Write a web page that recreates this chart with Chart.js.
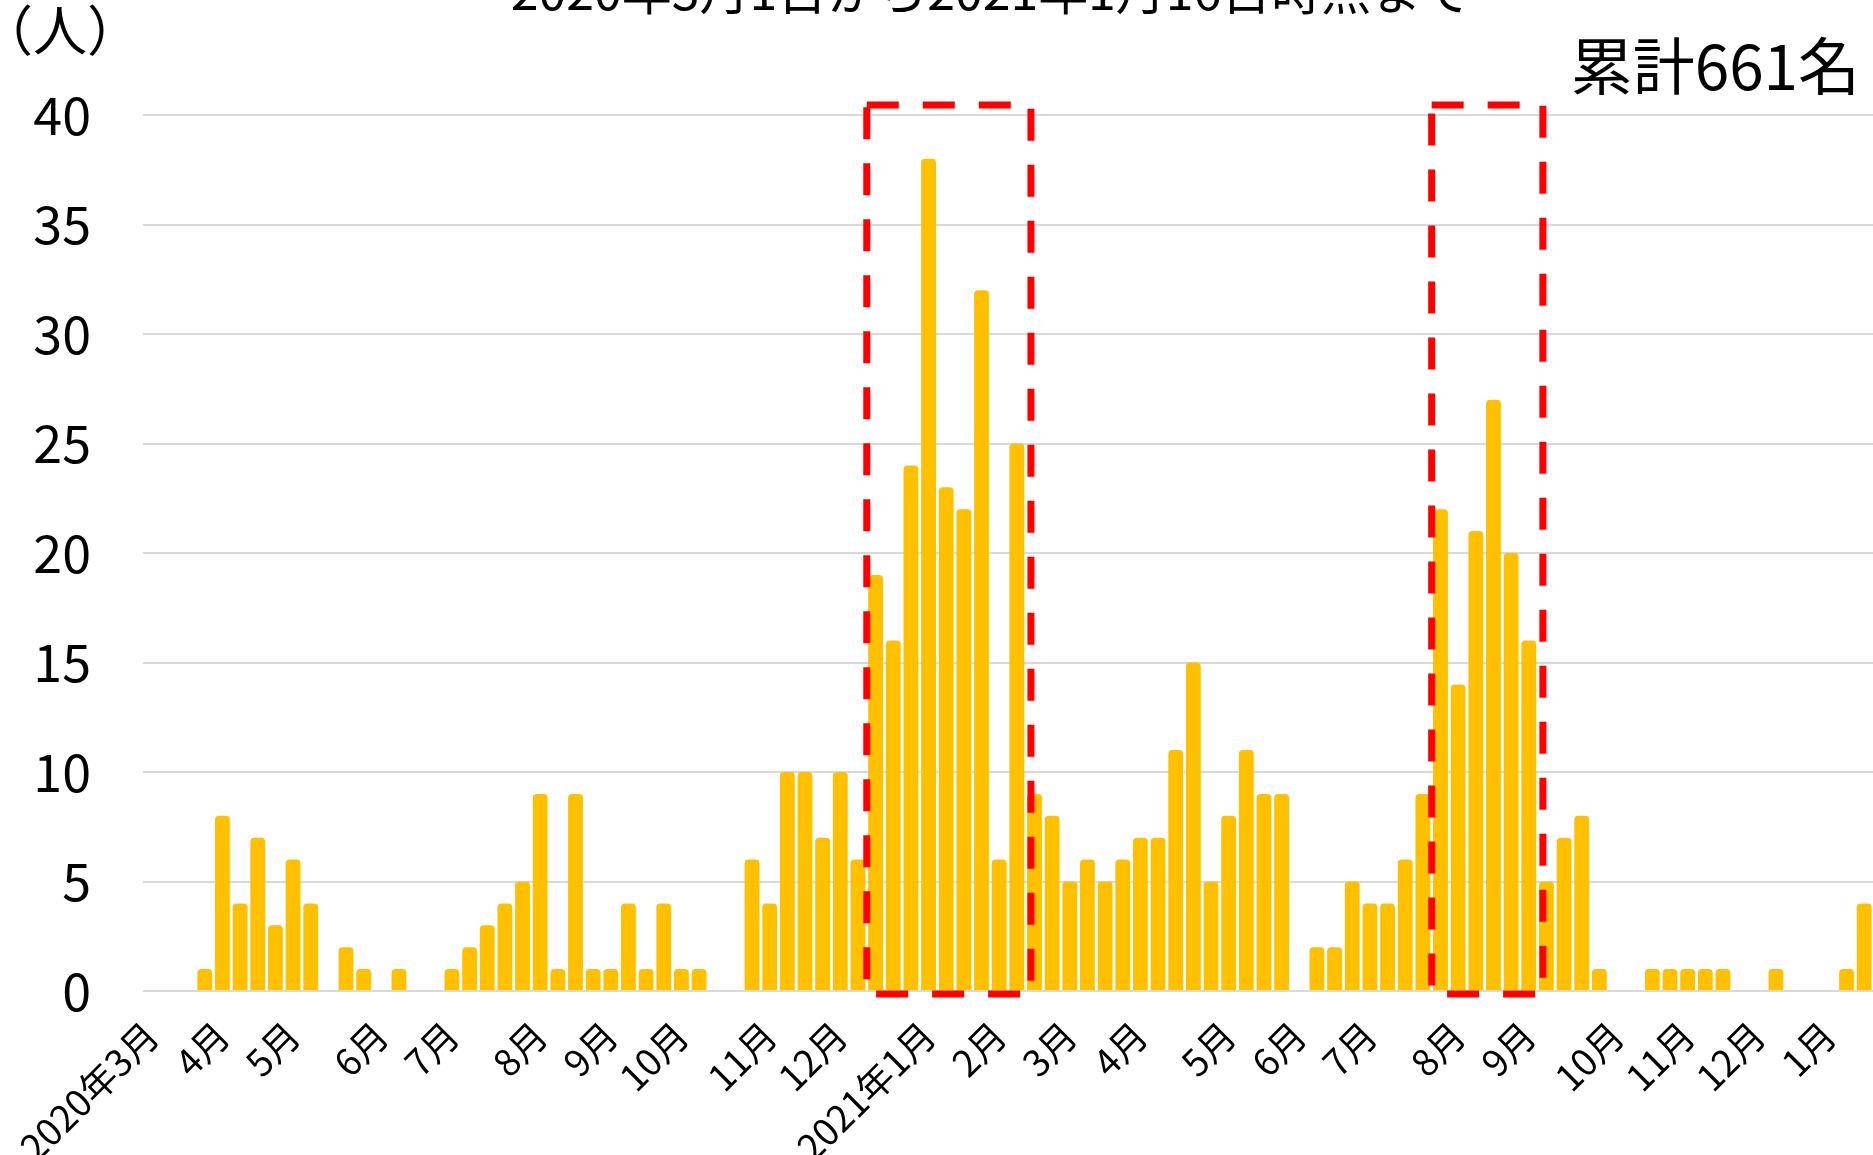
<!DOCTYPE html>
<html>
<head>
<meta charset="utf-8">
<script src="https://cdn.jsdelivr.net/npm/chart.js@4.4.1/dist/chart.umd.min.js"></script>
<style>
  html, body { margin: 0; padding: 0; background: #fff; overflow: hidden; }
  #chart { display: block; }
</style>
</head>
<body>
<canvas id="chart" width="1873" height="1155"></canvas>
<script>
// weekly new cases, week 0 = first week of March 2020
const weeklyCases = [
  0, 0, 0, 1, 8, 4, 7, 3, 6, 4,
  0, 2, 1, 0, 1, 0, 0, 1, 2, 3,
  4, 5, 9, 1, 9, 1, 1, 4, 1, 4,
  1, 1, 0, 0, 6, 4, 10, 10, 7, 10,
  6, 19, 16, 24, 38, 23, 22, 32, 6, 25,
  9, 8, 5, 6, 5, 6, 7, 7, 11, 15,
  5, 8, 11, 9, 9, 0, 2, 2, 5, 4,
  4, 6, 9, 22, 14, 21, 27, 20, 16, 5,
  7, 8, 1, 0, 0, 1, 1, 1, 1, 1,
  0, 0, 1, 0, 0, 0, 1, 4
]

// which week gets a month label
const monthTickWeek = [0, 4, 8, 13, 17, 22, 26, 30, 35, 39, 44, 48, 52, 56, 61, 65, 69, 74, 78, 83, 87, 91, 95]
const monthTickText = ['2020年3月', '4月', '5月', '6月', '7月', '8月', '9月', '10月', '11月', '12月',
  '2021年1月', '2月', '3月', '4月', '5月', '6月', '7月', '8月', '9月', '10月', '11月', '12月', '1月']

// first and last week of the two waves boxed in red
const waveStart = [41, 73]
const waveEnd = [49, 78]

const titleText = '2020年3月1日から2021年1月16日時点まで'
const unitText = '（人）'
const totalText = '累計661名'

const weekLabels = weeklyCases.map((v, i) => {
  const k = monthTickWeek.indexOf(i)
  return k >= 0 ? monthTickText[k] : ''
})

const FONT = "'Noto Sans CJK JP', 'Noto Sans', sans-serif"

const overlay = {
  id: 'overlay',
  afterDatasetsDraw(chart) {
    const ctx = chart.ctx
    const x = chart.scales.x
    const y = chart.scales.y
    const step = x.getPixelForValue(1) - x.getPixelForValue(0)

    ctx.save()
    ctx.strokeStyle = '#ff0000'
    ctx.lineWidth = 7
    ctx.setLineDash([32, 24])
    waveStart.forEach((s, i) => {
      const left = x.getPixelForValue(s) - step / 2
      const right = x.getPixelForValue(waveEnd[i]) + step / 2 + step * 0.3
      const top = y.getPixelForValue(40) - 10
      const bottom = y.getPixelForValue(0) + 3
      ctx.beginPath()
      ctx.moveTo(left, top)
      ctx.lineTo(right, top)
      ctx.lineTo(right, bottom)
      ctx.lineTo(left, bottom)
      ctx.closePath()
      ctx.stroke()
    })
    ctx.restore()
  },
  afterDraw(chart) {
    const ctx = chart.ctx
    ctx.save()
    ctx.fillStyle = '#000'
    ctx.textBaseline = 'alphabetic'

    ctx.font = '50px ' + FONT
    ctx.textAlign = 'center'
    ctx.fillText(titleText, 991, 10)

    ctx.font = '54px ' + FONT
    ctx.textAlign = 'left'
    ctx.fillText(unitText, -21, 51)

    ctx.font = '62px ' + FONT
    ctx.textAlign = 'right'
    ctx.fillText(totalText, 1860, 90)
    ctx.restore()
  }
}

new Chart(document.getElementById('chart'), {
  type: 'bar',
  data: {
    labels: weekLabels,
    datasets: [{
      data: weeklyCases,
      backgroundColor: '#ffc000',
      borderRadius: { topLeft: 4, topRight: 4 },
      borderSkipped: 'bottom',
      barPercentage: 0.84,
      categoryPercentage: 1.0
    }]
  },
  options: {
    responsive: false,
    animation: false,
    devicePixelRatio: 1,
    layout: { padding: { top: 115, left: 0, right: 0, bottom: 0 } },
    plugins: {
      legend: { display: false },
      tooltip: { enabled: false },
      title: { display: false }
    },
    scales: {
      x: {
        grid: { display: false },
        border: { display: false },
        ticks: {
          autoSkip: false,
          maxRotation: 45,
          minRotation: 45,
          padding: 14,
          color: '#000',
          font: { family: FONT, size: 37 }
        },
        afterFit(scale) {
          scale.height = 164
          scale.paddingLeft = 0
          scale.paddingRight = 0
        }
      },
      y: {
        min: 0,
        max: 40,
        grid: { color: '#d9d9d9', lineWidth: 2, drawTicks: false },
        border: { display: false },
        ticks: {
          stepSize: 5,
          padding: 52,
          color: '#000',
          font: { family: FONT, size: 52 }
        },
        afterFit(scale) { scale.width = 143 }
      }
    }
  },
  plugins: [overlay]
})
</script>
</body>
</html>
